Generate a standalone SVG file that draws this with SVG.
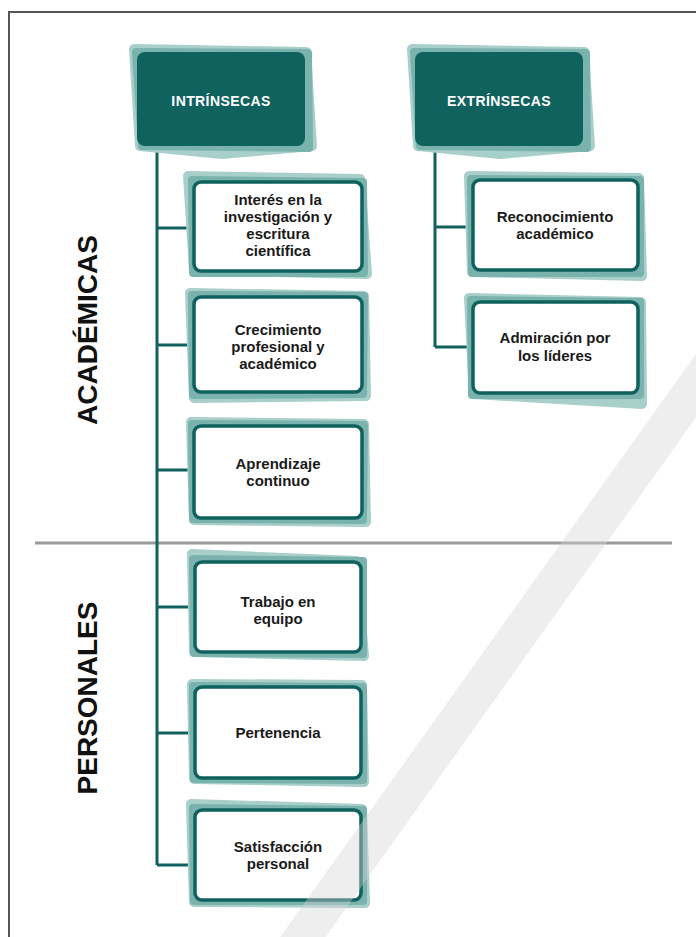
<svg xmlns="http://www.w3.org/2000/svg" width="696" height="937" viewBox="0 0 696 937">
<style>
.sl{fill:#a9cfcb;stroke:#a9cfcb;stroke-width:10;stroke-linejoin:round}
.sm{fill:#7ab2ad;stroke:#7ab2ad;stroke-width:8;stroke-linejoin:round}
.box{fill:#ffffff;stroke:#0f615d;stroke-width:3.5}
.hdr{fill:#0f625e}
.t{font-family:"Liberation Sans",Arial,sans-serif;font-weight:bold;font-size:15px;fill:#1a1a1a;text-anchor:middle}
.ht{font-family:"Liberation Sans",Arial,sans-serif;font-weight:bold;font-size:14px;fill:#ffffff;text-anchor:middle;letter-spacing:0.4px}
.vt{font-family:"Liberation Sans",Arial,sans-serif;font-weight:bold;font-size:28px;fill:#111111;text-anchor:middle}
.c{stroke:#0f615d;stroke-width:3;fill:none}
</style>
<rect width="696" height="937" fill="#ffffff"/>
<path d="M9,937 V12 H696" fill="none" stroke="#555555" stroke-width="2"/>
<line x1="35" y1="543" x2="672" y2="543" stroke="#9a9a9a" stroke-width="3"/>
<text class="vt" transform="translate(97,330) rotate(-90)">ACADÉMICAS</text>
<text class="vt" transform="translate(97,698) rotate(-90)">PERSONALES</text>
<g id="connectors">
<path class="c" d="M157,146 V865 M157,228 H194 M157,345 H194 M157,470 H194 M157,607 H195 M157,733 H195 M157,865 H195"/>
<path class="c" d="M435,146 V347 M435,227 H473 M435,347 H473"/>
</g>
<g id="intrinsecas">
<polygon class="sl" points="134,49 306,52 312,146 222,154 140,146"/>
<polygon class="sm" points="136,52 308,53 309,148 142,146"/>
<rect class="hdr" x="137" y="52" width="168" height="94" rx="8"/>
<text class="ht" x="221" y="106">INTRÍNSECAS</text>
</g>
<g id="extrinsecas">
<polygon class="sl" points="412,49 584,52 590,146 500,154 418,146"/>
<polygon class="sm" points="414,52 586,53 587,148 420,146"/>
<rect class="hdr" x="415" y="52" width="168" height="94" rx="8"/>
<text class="ht" x="499" y="106">EXTRÍNSECAS</text>
</g>
<g id="interes">
<polygon class="sl" points="188,176 360,179 367,274 194,270"/>
<polygon class="sm" points="192,180 363,182 364,273 193,273"/>
<rect class="box" x="194" y="182" width="168" height="89" rx="7"/>
<text class="t" x="278" y="205">Interés en la</text>
<text class="t" x="278" y="222">investigación y</text>
<text class="t" x="278" y="239">escritura</text>
<text class="t" x="278" y="256">científica</text>
</g>
<g id="crecimiento">
<polygon class="sl" points="190,293 364,296 366,396 194,398"/>
<polygon class="sm" points="192,295 364,296 363,394 193,395"/>
<rect class="box" x="194" y="297" width="168" height="95" rx="7"/>
<text class="t" x="278" y="335">Crecimiento</text>
<text class="t" x="278" y="352">profesional y</text>
<text class="t" x="278" y="369">académico</text>
</g>
<g id="aprendizaje">
<polygon class="sl" points="191,422 364,424 366,522 194,520"/>
<polygon class="sm" points="192,424 364,425 363,520 193,519"/>
<rect class="box" x="194" y="426" width="168" height="92" rx="7"/>
<text class="t" x="278" y="469">Aprendizaje</text>
<text class="t" x="278" y="486">continuo</text>
</g>
<g id="trabajo">
<polygon class="sl" points="192,554 356,561 364,656 194,652"/>
<polygon class="sm" points="193,559 363,561 363,654 194,653"/>
<rect class="box" x="195" y="562" width="166" height="90" rx="7"/>
<text class="t" x="278" y="607">Trabajo en</text>
<text class="t" x="278" y="624">equipo</text>
</g>
<g id="pertenencia">
<polygon class="sl" points="192,684 362,685 364,782 194,779"/>
<polygon class="sm" points="193,686 363,687 363,780 194,779"/>
<rect class="box" x="195" y="687" width="166" height="91" rx="7"/>
<text class="t" x="278" y="738">Pertenencia</text>
</g>
<g id="satisfaccion">
<polygon class="sl" points="191,804 362,809 365,903 194,902"/>
<polygon class="sm" points="193,808 363,810 363,901 194,901"/>
<rect class="box" x="195" y="810" width="166" height="90" rx="7"/>
<text class="t" x="278" y="852">Satisfacción</text>
<text class="t" x="278" y="869">personal</text>
</g>
<g id="reconocimiento">
<polygon class="sl" points="469,176 639,178 642,276 472,272"/>
<polygon class="sm" points="471,179 640,180 640,273 472,273"/>
<rect class="box" x="473" y="180" width="165" height="90" rx="7"/>
<text class="t" x="555" y="222">Reconocimiento</text>
<text class="t" x="555" y="239">académico</text>
</g>
<g id="admiracion">
<polygon class="sl" points="469,298 641,302 642,404 474,394"/>
<polygon class="sm" points="471,300 640,302 640,395 472,395"/>
<rect class="box" x="473" y="302" width="165" height="91" rx="7"/>
<text class="t" x="555" y="343">Admiración por</text>
<text class="t" x="555" y="361">los líderes</text>
</g>
<g id="watermark">
<line x1="760" y1="296" x2="290" y2="955" stroke="#d5d5d5" stroke-opacity="0.4" stroke-width="37"/>
</g>
</svg>
